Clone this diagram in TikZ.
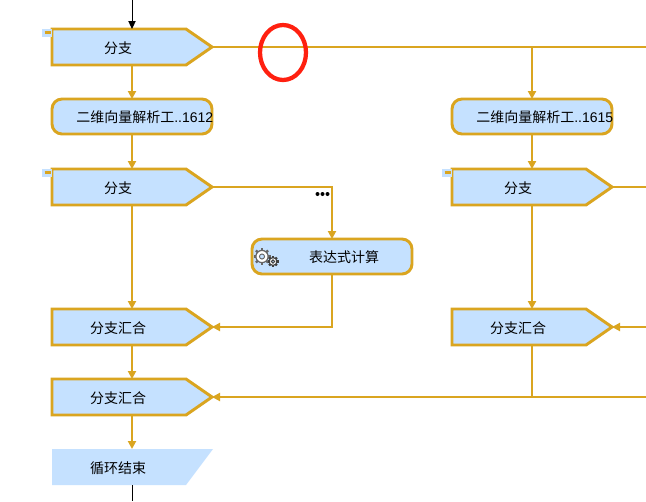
\documentclass[tikz,border=0pt]{standalone}
\usepackage{fontspec}
\newfontfamily\cjk{Noto Sans CJK SC}
\newfontfamily\lat{Liberation Sans}
\usetikzlibrary{arrows.meta,calc}
\definecolor{gold}{HTML}{DAA520}
\definecolor{boxblue}{HTML}{C5E1FF}
\definecolor{ringred}{HTML}{FF2010}
\tikzset{
  flow/.style={draw=gold,line width=2.2pt,line join=miter,-{Triangle[length=6pt,width=6pt]}},
  flowplain/.style={draw=gold,line width=2.2pt,line join=miter},
  wire/.style={draw=black,line width=0.75pt},
  flagshape/.style={draw=gold,fill=boxblue,line width=2.2pt,line join=miter},
  anchorbox/.style={rectangle,inner sep=0pt,outer sep=0pt,minimum width=120pt,minimum height=27pt},
  roundbox/.style={rectangle,rounded corners=7.5pt,draw=gold,fill=boxblue,line width=2.2pt,inner sep=0pt,outer sep=0pt,minimum width=120pt,minimum height=26.25pt},
  caption/.style={inner sep=0pt,font=\cjk\fontsize{10.5}{12}\selectfont,text=black},
}
\newcommand{\flagbox}[4]{%
  \draw[flagshape] ({#2-80},{#3-18}) -- ({#2+54},{#3-18}) -- ({#2+80},{#3}) -- ({#2+54},{#3+18}) -- ({#2-80},{#3+18}) -- cycle;
  \node[anchorbox] (#1) at (#2,#3) {};
  \node[caption] (#1T) at ({#2-14},{#3+1}) {#4};
}
\newcommand{\minusmark}[2]{%
  \fill[boxblue] ({#1-90},{#2-18}) rectangle ({#1-80},{#2-10});
  \draw[gold,line width=1.6pt] ({#1-87.5},{#2-14.5}) -- ({#1-81},{#2-14.5});
}
\newcommand{\gearicon}[4]{%
  \foreach \a in {0,45,...,315}{
    \draw[draw=#4,line width=1.7pt] ({#1+#3*0.72*cos(\a)},{#2+#3*0.72*sin(\a)}) -- ({#1+#3*cos(\a)},{#2+#3*sin(\a)});
  }
  \draw[draw=#4,line width=0.9pt,fill=white] (#1,#2) circle[radius=#3*0.72];
  \draw[draw=#4,line width=0.7pt,fill=boxblue] (#1,#2) circle[radius=#3*0.3];
}
\begin{document}
\begin{tikzpicture}[x=0.75pt,y=-0.75pt]
\useasboundingbox (0,0) rectangle (646,501);
\fill[white] (0,0) rectangle (646,501);

% free ends
\coordinate (top) at (132,0);
\coordinate (bottom) at (132,501);
\coordinate (r1) at (646,47);
\coordinate (r2) at (646,187);
\coordinate (r3) at (646,327);
\coordinate (r4) at (646,397);

% left column
\flagbox{b1}{132}{47}{分支}
\minusmark{132}{47}
\node[roundbox] (p1) at (132,116.5) {};
\node[caption,anchor=west] (p1T) at (76,117.5) {二维向量解析工{\lat ..1612}};
\flagbox{b2}{132}{187}{分支}
\minusmark{132}{187}
\node[roundbox] (calc) at (332,256.5) {};
\node[caption] (calcT) at (344,257.5) {表达式计算};
\flagbox{m1}{132}{327}{分支汇合}
\flagbox{m2}{132}{397}{分支汇合}
\fill[boxblue] (52,449) -- (213,449) -- (186,485) -- (52,485) -- cycle;
\node[anchorbox] (e) at (132,467) {};
\node[caption] (eT) at (118,468) {循环结束};

% right column
\node[roundbox] (p2) at (532,116.5) {};
\node[caption,anchor=west] (p2T) at (476,117.5) {二维向量解析工{\lat ..1615}};
\flagbox{b3}{532}{187}{分支}
\minusmark{532}{187}
\flagbox{m3}{532}{327}{分支汇合}

% connectors
\draw[wire,-{Triangle[length=6pt,width=5.5pt]}] (top) -- (b1.north);
\draw[wire] (e.south) -- (bottom);
\draw[flowplain] (b1.east) -- (r1);
\draw[flow] (b1.south) -- (p1.north);
\draw[flow] (p1.south) -- (b2.north);
\draw[flow] (b2.south) -- (m1.north);
\draw[flow] (m1.south) -- (m2.north);
\draw[flow] (m2.south) -- (e.north);
\draw[flow] (b2.east) -| (calc.north);
\draw[flow] (calc.south) |- (m1.east);
\draw[flow] (b1.east -| p2.north) -- (p2.north);
\draw[flow] (p2.south) -- (b3.north);
\draw[flow] (b3.south) -- (m3.north);
\draw[flowplain] (b3.east) -- (r2);
\draw[flow] (r3) -- (m3.east);
\draw[flow] (r4) -- (m2.east);
\draw[flowplain] (m3.south) -- (m3.south |- r4);

% three dots
\foreach \x in {317.5,322.5,327.5}{
  \fill[black] (\x,194) circle[radius=2];
}

% gears
\gearicon{262}{256.5}{8.5}{black!60}
\gearicon{273}{261.5}{5.5}{black!75}

% red ring
\draw[ringred,line width=3.2pt] (283,52.5) ellipse[x radius=23,y radius=27.5];
\end{tikzpicture}
\end{document}
